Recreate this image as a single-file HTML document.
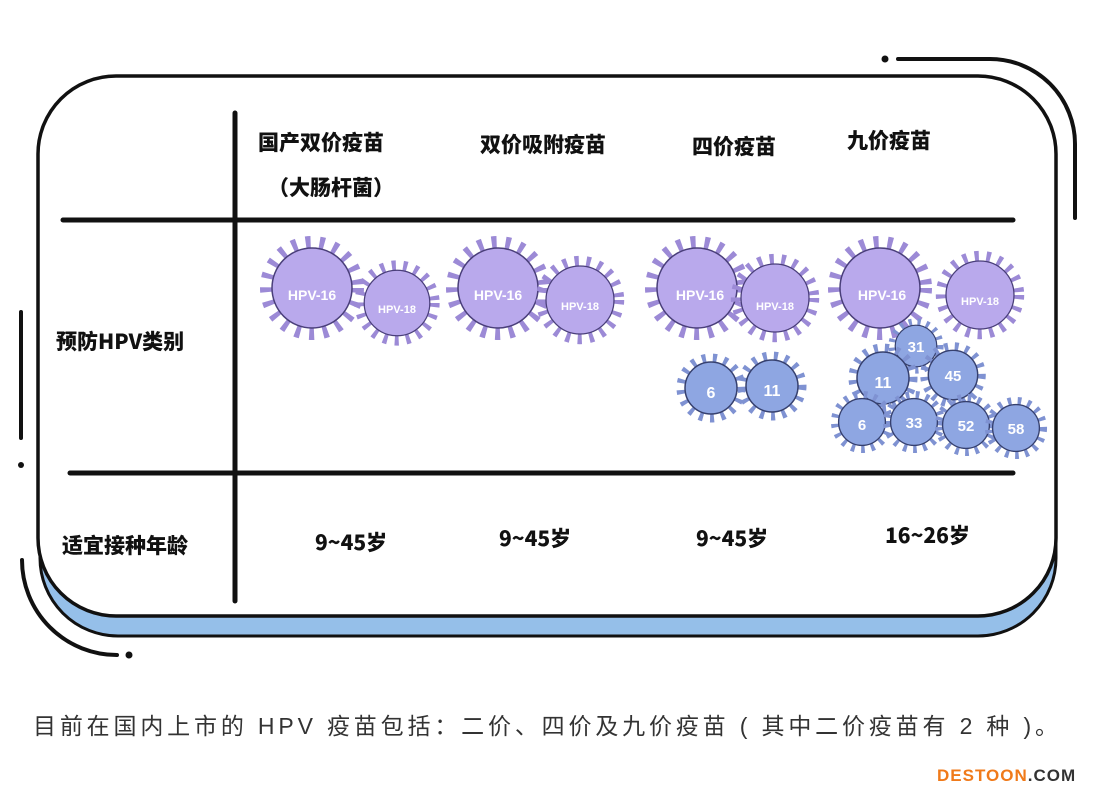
<!DOCTYPE html>
<html><head><meta charset="utf-8"><style>
body{margin:0;background:#fff;width:1108px;height:797px;overflow:hidden;font-family:"Liberation Sans","Noto Sans CJK SC",sans-serif}
svg{position:absolute;left:0;top:0}
.h{font-family:"Noto Sans CJK SC","WenQuanYi Zen Hei",sans-serif;font-weight:900;fill:#111}
</style></head><body>
<svg width="1108" height="797" viewBox="0 0 1108 797">
<defs>
<g id="vp"><circle r="46" fill="none" stroke="#9c8ad6" stroke-width="12" stroke-dasharray="5 9"/><circle r="40" fill="#b9a9ec" stroke="#4a3f7a" stroke-width="1.5"/></g>
<g id="vb"><circle r="30" fill="none" stroke="#7f92d2" stroke-width="9" stroke-dasharray="4 7"/><circle r="26" fill="#8ea6e2" stroke="#36406e" stroke-width="1.5"/></g>
</defs>
<rect x="40" y="98" width="1016" height="538" rx="78" fill="#95bfe9" stroke="#111" stroke-width="3"/>
<rect x="38" y="76" width="1018" height="540" rx="78" fill="#fff" stroke="#111" stroke-width="3.5"/>
<circle cx="885" cy="59" r="3.5" fill="#111"/>
<path d="M898 59 H990 A85 85 0 0 1 1075 144 V218" fill="none" stroke="#111" stroke-width="4" stroke-linecap="round"/>
<path d="M22 560 A95 95 0 0 0 117 655" fill="none" stroke="#111" stroke-width="4" stroke-linecap="round"/>
<circle cx="129" cy="655" r="3.5" fill="#111"/>
<line x1="21" y1="312" x2="21" y2="438" stroke="#111" stroke-width="4" stroke-linecap="round"/>
<circle cx="21" cy="465" r="3" fill="#111"/>
<line x1="235" y1="113" x2="235" y2="601" stroke="#111" stroke-width="5" stroke-linecap="round"/>
<line x1="63" y1="220" x2="1013" y2="220" stroke="#111" stroke-width="5" stroke-linecap="round"/>
<line x1="70" y1="473" x2="1013" y2="473" stroke="#111" stroke-width="5" stroke-linecap="round"/>
<text class="h" x="258" y="150" font-size="21">国产双价疫苗</text>
<text class="h" x="268" y="195" font-size="21">（大肠杆菌）</text>
<text class="h" x="480" y="152" font-size="21">双价吸附疫苗</text>
<text class="h" x="692" y="154" font-size="21">四价疫苗</text>
<text class="h" x="847" y="148" font-size="21">九价疫苗</text>
<text class="h" x="56" y="349" font-size="21">预防HPV类别</text>
<text class="h" x="62" y="553" font-size="21">适宜接种年龄</text>
<text class="h" x="315" y="550" font-size="21">9~45岁</text>
<text class="h" x="499" y="546" font-size="21">9~45岁</text>
<text class="h" x="696" y="546" font-size="21">9~45岁</text>
<text class="h" x="885" y="543" font-size="21">16~26岁</text>
<g font-family="Liberation Sans,sans-serif" font-weight="bold" fill="#fff" text-anchor="middle">
<use href="#vp" x="312" y="288"/><text x="312" y="300" font-size="14">HPV-16</text>
<use href="#vp" transform="translate(397 303) scale(0.82)"/><text x="397" y="313" font-size="11">HPV-18</text>
<use href="#vp" x="498" y="288"/><text x="498" y="300" font-size="14">HPV-16</text>
<use href="#vp" transform="translate(580 300) scale(0.85)"/><text x="580" y="310" font-size="11">HPV-18</text>
<use href="#vp" x="697" y="288"/><text x="700" y="300" font-size="14">HPV-16</text>
<use href="#vp" transform="translate(775 298) scale(0.85)"/><text x="775" y="310" font-size="11">HPV-18</text>
<use href="#vb" x="711" y="388"/><text x="711" y="398" font-size="16">6</text>
<use href="#vb" x="772" y="386"/><text x="772" y="396" font-size="16">11</text>
<use href="#vp" x="880" y="288"/><text x="882" y="300" font-size="14">HPV-16</text>
<use href="#vp" transform="translate(980 295) scale(0.85)"/><text x="980" y="305" font-size="11">HPV-18</text>
<use href="#vb" transform="translate(916 346) scale(0.8)"/><text x="916" y="352" font-size="15">31</text>
<use href="#vb" x="883" y="378"/><text x="883" y="388" font-size="16">11</text>
<use href="#vb" transform="translate(953 375) scale(0.95)"/><text x="953" y="381" font-size="15">45</text>
<use href="#vb" transform="translate(862 422) scale(0.9)"/><text x="862" y="430" font-size="15">6</text>
<use href="#vb" transform="translate(914 422) scale(0.9)"/><text x="914" y="428" font-size="15">33</text>
<use href="#vb" transform="translate(966 425) scale(0.9)"/><text x="966" y="431" font-size="15">52</text>
<use href="#vb" transform="translate(1016 428) scale(0.9)"/><text x="1016" y="434" font-size="15">58</text>
</g>
<text x="33" y="734" font-size="23" fill="#333" textLength="1025" lengthAdjust="spacing" font-family="Liberation Sans,Noto Sans CJK SC,sans-serif">目前在国内上市的 HPV 疫苗包括：二价、四价及九价疫苗 ( 其中二价疫苗有 2 种 )。</text>
<text x="937" y="781" font-size="17" font-weight="bold" fill="#f07a1a" font-family="Liberation Sans,sans-serif" letter-spacing="1">DESTOON<tspan fill="#333">.COM</tspan></text>
</svg>
</body></html>
